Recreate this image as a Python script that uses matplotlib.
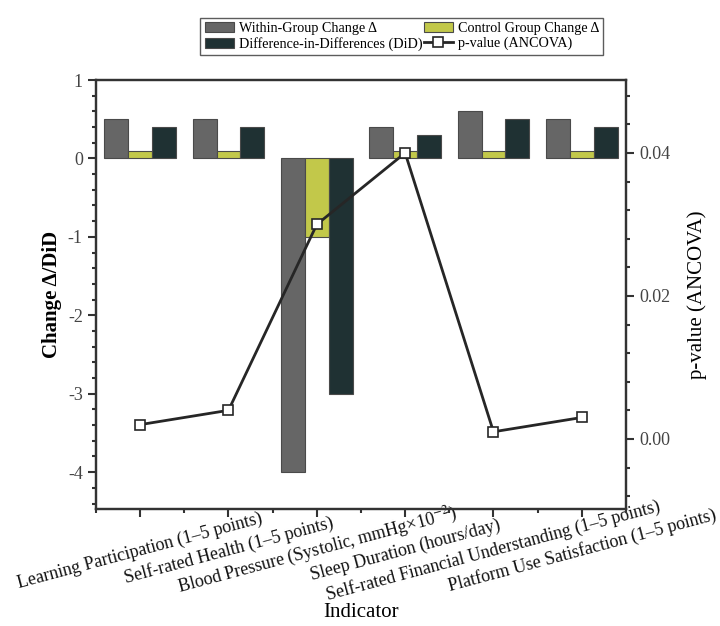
import matplotlib
matplotlib.use("Agg")
import matplotlib.pyplot as plt
import numpy as np
from matplotlib.ticker import MultipleLocator, FormatStrFormatter

plt.rcParams['font.family'] = ['Liberation Serif', 'DejaVu Serif']
plt.rcParams['mathtext.fontset'] = 'stix'
plt.rcParams['axes.unicode_minus'] = False

indicators = [
    "Learning Participation (1–5 points)",
    "Self-rated Health (1–5 points)",
    "Blood Pressure (Systolic, mmHg×10$^{-2}$)",
    "Sleep Duration (hours/day)",
    "Self-rated Financial Understanding (1–5 points)",
    "Platform Use Satisfaction (1–5 points)",
]
within_change = [0.5, 0.5, -4.0, 0.4, 0.6, 0.5]
control_change = [0.1, 0.1, -1.0, 0.1, 0.1, 0.1]
did = [0.4, 0.4, -3.0, 0.3, 0.5, 0.4]
p_values = [0.002, 0.004, 0.030, 0.040, 0.001, 0.003]

c_gray = "#666666"
c_yellow = "#c2c84a"
c_dark = "#1f3133"
edge = "#4a4a4a"
axis_col = "#333333"

fig = plt.figure(figsize=(7.2, 6.26), dpi=100)
ax = fig.add_axes([0.1333, 0.1869, 0.7361, 0.6853])
ax2 = ax.twinx()

x = np.arange(len(indicators))
w = 0.27
b1 = ax.bar(x - w, within_change, w, color=c_gray, edgecolor=edge, linewidth=0.8,
            label="Within-Group Change Δ")
b2 = ax.bar(x, control_change, w, color=c_yellow, edgecolor=edge, linewidth=0.8,
            label="Control Group Change Δ")
b3 = ax.bar(x + w, did, w, color=c_dark, edgecolor=edge, linewidth=0.8,
            label="Difference-in-Differences (DiD)")

ln, = ax2.plot(x, p_values, color="#262626", lw=2, marker="s", ms=7,
               mfc="white", mec="#262626", mew=1.2, label="p-value (ANCOVA)")

ax.set_xlim(-0.5, 5.5)
ax.set_ylim(-4.47, 1.0)
ax2.set_ylim(-0.0098, 0.0502)

ax.yaxis.set_major_locator(MultipleLocator(1))
ax.yaxis.set_minor_locator(MultipleLocator(0.2))
ax2.yaxis.set_major_locator(MultipleLocator(0.02))
ax2.yaxis.set_minor_locator(MultipleLocator(0.004))
ax2.yaxis.set_major_formatter(FormatStrFormatter("%.2f"))
ax.set_xticks(x)
ax.set_xticks(np.arange(-0.5, 5.6, 1.0), minor=True)
ax.set_xticklabels(indicators, rotation=15, ha="center", va="center",
                   rotation_mode="anchor", fontsize=13)

for a in (ax, ax2):
    for s in a.spines.values():
        s.set_linewidth(1.6)
        s.set_color(axis_col)
ax.tick_params(axis="both", which="major", direction="out", length=6, width=1.5,
               color=axis_col, labelcolor="#444444", labelsize=13)
ax.tick_params(axis="both", which="minor", direction="out", length=3, width=1.5,
               color=axis_col)
ax.tick_params(axis="x", which="major", labelsize=13, labelcolor="#111111", pad=24)
ax2.tick_params(axis="y", which="major", direction="out", length=6, width=1.5,
                color=axis_col, labelcolor="#444444", labelsize=13)
ax2.tick_params(axis="y", which="minor", direction="out", length=3, width=1.5,
                color=axis_col)

ax.set_ylabel("Change Δ/DiD", fontsize=15, fontweight="bold", labelpad=4)
ax2.set_ylabel("p-value (ANCOVA)", fontsize=15, labelpad=12)
ax.set_xlabel("Indicator", fontsize=15)
ax.xaxis.set_label_coords(0.5, -0.219)

handles = [b1, b3, b2, ln]
fig.legend(handles, [h.get_label() for h in handles], ncol=2, loc="center",
           bbox_to_anchor=(0.558, 0.942), fontsize=10.2, frameon=True,
           fancybox=False, edgecolor="#333333", borderpad=0.3, handlelength=2.1,
           columnspacing=0.1, handletextpad=0.3, labelspacing=0.15,
           borderaxespad=0)

fig.savefig("out.png", dpi=100)
